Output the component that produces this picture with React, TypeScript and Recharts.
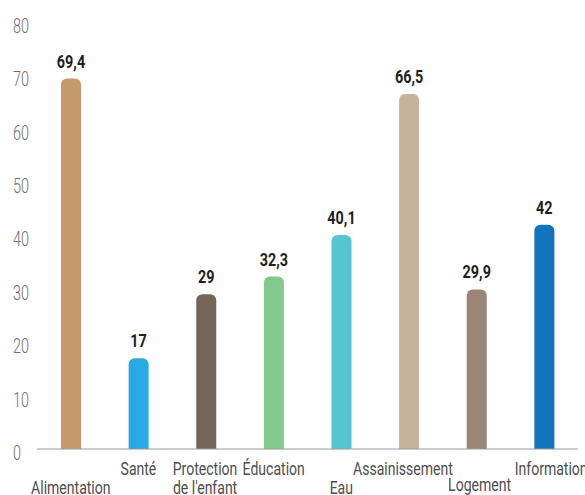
import React from 'react';
import { BarChart, Bar, XAxis, YAxis, Cell, LabelList } from 'recharts';

const categories = ['Alimentation', 'Santé', "Protection\nde l'enfant", 'Éducation', 'Eau', 'Assainissement', 'Logement', 'Information'];
const values = [69.4, 17, 29, 32.3, 40.1, 66.5, 29.9, 42];
const valueLabels = ['69,4', '17', '29', '32,3', '40,1', '66,5', '29,9', '42'];
const colors = ['#C49A6C', '#27AAE1', '#736656', '#82C98B', '#55C5CF', '#C4B39A', '#9B8577', '#1174BC'];
const yTicks = [0, 10, 20, 30, 40, 50, 60, 70, 80];

const data = categories.map((c, i) => ({ name: c, value: values[i], label: valueLabels[i], color: colors[i] }));

const FONT = "Roboto, 'Liberation Sans', sans-serif";

// label layout styling (staggered rows / nudges), not data
const ROW_DROP = [19, 0, 0, 0, 19, 0, 16, 0];
const NUDGE = [0, 0, -1, 0, 0, -6, 3, 7];

const CText = ({ x, y, sx, anchor, size, weight, fill, children }: any) => (
  <text
    transform={`translate(${x},${y}) scale(${sx},1)`}
    x={0}
    y={0}
    textAnchor={anchor}
    dominantBaseline="central"
    fontFamily={FONT}
    fontSize={size}
    fontWeight={weight}
    fill={fill}
  >
    {children}
  </text>
);

const XTick = (props: any) => {
  const { x, y, payload, index } = props;
  const lines = String(payload.value).split('\n');
  const baseY = y + 20 + (ROW_DROP[index] || 0);
  return (
    <g>
      {lines.map((ln, k) => (
        <CText key={k} x={x + (NUDGE[index] || 0)} y={baseY + k * 19} sx={0.78} anchor="middle" size={18} weight={400} fill="#4d4d4d">
          {ln}
        </CText>
      ))}
    </g>
  );
};

const YTick = (props: any) => {
  const { y, payload } = props;
  return (
    <CText x={13} y={y + 4} sx={0.72} anchor="start" size={20} weight={300} fill="#6e6e6e">
      {payload.value}
    </CText>
  );
};

const ValueLabel = (props: any) => {
  const { x, y, width, index } = props;
  return (
    <CText x={x + width / 2} y={y - 17} sx={0.8} anchor="middle" size={18} weight={700} fill="#231f20">
      {valueLabels[index]}
    </CText>
  );
};

export default function App() {
  return (
    <div style={{ position: 'absolute', left: 0, top: 0, width: 585, height: 495, background: '#fff' }}>
      <BarChart width={585} height={495} data={data} margin={{ top: 22, right: 7, left: 0, bottom: 45 }}>
        <YAxis
          type="number"
          domain={[0, 80]}
          ticks={yTicks}
          width={37}
          axisLine={false}
          tickLine={false}
          tick={<YTick />}
          interval={0}
        />
        <XAxis
          dataKey="name"
          height={1}
          axisLine={{ stroke: '#9a9a9a', strokeWidth: 1 }}
          tickLine={false}
          tickSize={0}
          tickMargin={0}
          interval={0}
          tick={<XTick />}
        />
        <Bar dataKey="value" barSize={20} radius={[6, 6, 0, 0]} isAnimationActive={false}>
          {data.map((d, i) => (
            <Cell key={i} fill={d.color} />
          ))}
          <LabelList dataKey="label" content={<ValueLabel />} />
        </Bar>
      </BarChart>
    </div>
  );
}
